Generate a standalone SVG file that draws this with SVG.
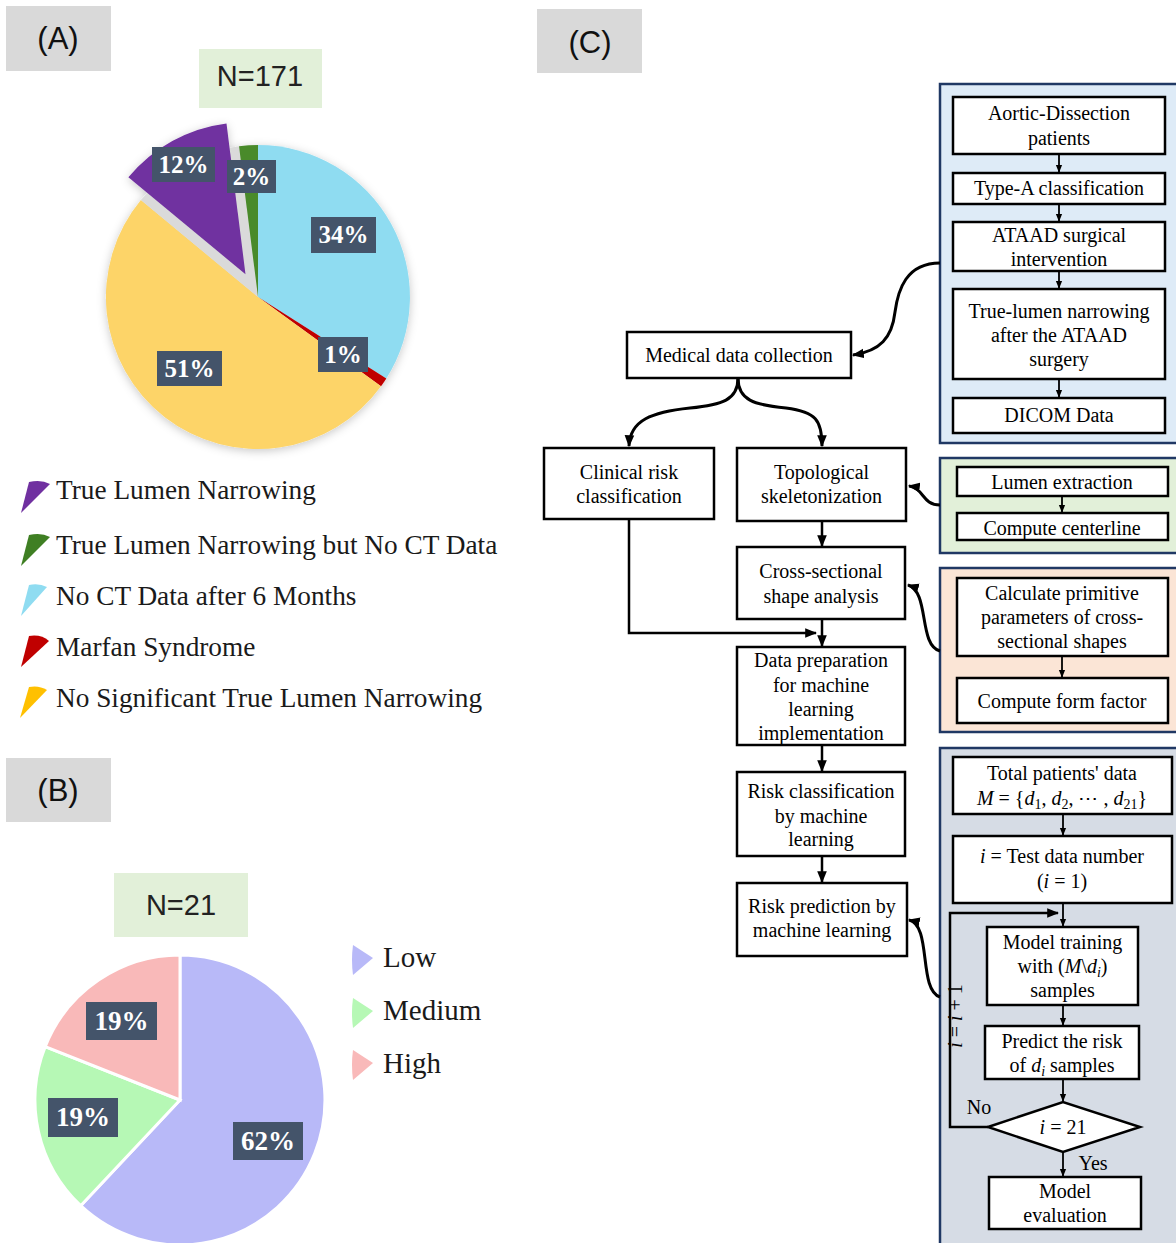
<svg xmlns="http://www.w3.org/2000/svg" width="1176" height="1243" viewBox="0 0 1176 1243">
<defs>
<style>
.lbl{fill:#d9d9d9}
.lt{font-family:"Liberation Sans",Arial,sans-serif;font-size:31px;fill:#111;text-anchor:middle}
.nb{fill:#e2f0d9}
.nt{font-family:"Liberation Sans",Arial,sans-serif;font-size:29px;fill:#222;text-anchor:middle}
.pb{fill:#44546a}
.pt{font-family:"Liberation Serif","Times New Roman",serif;font-weight:bold;font-size:25px;fill:#fff;text-anchor:middle}
.pt2{font-family:"Liberation Serif","Times New Roman",serif;font-weight:bold;font-size:27px;fill:#fff;text-anchor:middle}
.lg{font-family:"Liberation Serif","Times New Roman",serif;font-size:27.3px;fill:#1a1a1a}
.lg2{font-family:"Liberation Serif","Times New Roman",serif;font-size:29px;fill:#1a1a1a}
.bx{fill:#fff;stroke:#000;stroke-width:2.5}
.pn{stroke:#203864;stroke-width:2.5}
.ft{font-family:"Liberation Serif","Times New Roman",serif;font-size:20px;fill:#000;text-anchor:middle}
.it{font-style:italic}
.ar{fill:none;stroke:#000;stroke-width:2.5;marker-end:url(#ah)}
.as{fill:none;stroke:#000;stroke-width:1.8;marker-end:url(#ahs)}
.cv{fill:none;stroke:#000;stroke-width:3;marker-end:url(#ah)}
</style>
<marker id="ah" viewBox="0 0 10 10" refX="9" refY="5" markerWidth="12" markerHeight="12" markerUnits="userSpaceOnUse" orient="auto"><path d="M0,1 L10,5 L0,9 Z" fill="#000"/></marker>
<marker id="ahs" viewBox="0 0 10 10" refX="9" refY="5" markerWidth="8" markerHeight="8" markerUnits="userSpaceOnUse" orient="auto"><path d="M0,1 L10,5 L0,9 Z" fill="#000"/></marker>
<filter id="sh" x="-20%" y="-20%" width="140%" height="140%"><feDropShadow dx="0" dy="2" stdDeviation="5" flood-color="#000" flood-opacity="0.22"/></filter>
</defs>
<rect width="1176" height="1243" fill="#fff"/>

<!-- Panel A -->
<g id="labelA"><rect class="lbl" x="6" y="6" width="105" height="65"/><text class="lt" x="58" y="49">(A)</text></g>
<g id="n171"><rect class="nb" x="199" y="49" width="123" height="59"/><text class="nt" x="260" y="86">N=171</text></g>
<g id="pieA">
<g filter="url(#sh)">
<path d="M258,297 L258,145 A152,152 0 0 1 386.3,378.4 Z" fill="#8fdcf1"/>
<path d="M258,297 L386.3,378.4 A152,152 0 0 1 381.0,386.3 Z" fill="#c00000"/>
<path d="M258,297 L381.0,386.3 A152,152 0 1 1 140.9,200.1 Z" fill="#fdd468"/>
<path d="M258,297 L140.9,200.1 A152,152 0 0 1 239.0,146.2 Z" fill="#dadada"/>
<path d="M258,297 L239.0,146.2 A152,152 0 0 1 258,145 Z" fill="#4a8a2c"/>
<path d="M245.5,274.2 L128.4,177.3 A152,152 0 0 1 226.5,123.4 Z" fill="#7030a0"/>
</g>
<rect class="pb" x="152" y="147" width="63" height="35"/><text class="pt" x="183.5" y="173">12%</text>
<rect class="pb" x="227" y="160" width="49" height="33"/><text class="pt" x="251.5" y="185">2%</text>
<rect class="pb" x="311" y="217" width="65" height="36"/><text class="pt" x="343.5" y="243">34%</text>
<rect class="pb" x="318" y="337" width="50" height="35"/><text class="pt" x="343" y="363">1%</text>
<rect class="pb" x="157" y="351" width="65" height="35"/><text class="pt" x="189.5" y="377">51%</text>
</g>
<g id="legendA">
<path transform="translate(21,482)" d="M0,31 L8,0 Q20,-3 29,2 Z" fill="#7030a0"/>
<text class="lg" x="56" y="499">True Lumen Narrowing</text>
<path transform="translate(21,535)" d="M0,31 L8,0 Q20,-3 29,2 Z" fill="#3f7f23"/>
<text class="lg" x="56" y="554">True Lumen Narrowing but No CT Data</text>
<path transform="translate(21,585)" d="M0,31 L8,0 Q18,-2 26,2 Z" fill="#8fdcf1"/>
<text class="lg" x="56" y="605">No CT Data after 6 Months</text>
<path transform="translate(21,636)" d="M0,31 L8,0 Q20,-2 28,5 Z" fill="#c00000"/>
<text class="lg" x="56" y="656">Marfan Syndrome</text>
<path transform="translate(20,687)" d="M0,31 L9,0 Q19,-2 27,3 Z" fill="#ffc000"/>
<text class="lg" x="56" y="707">No Significant True Lumen Narrowing</text>
</g>

<!-- Panel B -->
<g id="labelB"><rect class="lbl" x="6" y="758" width="105" height="64"/><text class="lt" x="58" y="801">(B)</text></g>
<g id="n21"><rect class="nb" x="114" y="873" width="134" height="64"/><text class="nt" x="181" y="915">N=21</text></g>
<g id="pieB" stroke="#fff" stroke-width="3">
<path d="M180,1100 L180,955 A145,145 0 1 1 80.7,1205.7 Z" fill="#b8b9f8"/>
<path d="M180,1100 L80.7,1205.7 A145,145 0 0 1 45.2,1046.6 Z" fill="#b6f8b5"/>
<path d="M180,1100 L45.2,1046.6 A145,145 0 0 1 180,955 Z" fill="#f9b9b9"/>
</g>
<g id="pieBlabels">
<rect class="pb" x="86" y="1002" width="71" height="38"/><text class="pt2" x="121.5" y="1030">19%</text>
<rect class="pb" x="48" y="1098" width="70" height="39"/><text class="pt2" x="83" y="1126">19%</text>
<rect class="pb" x="233" y="1122" width="70" height="38"/><text class="pt2" x="268" y="1150">62%</text>
</g>
<g id="legendB">
<path transform="translate(353,945)" d="M0,0 L20,13 L0,30 Q-2,15 0,0 Z" fill="#b8b9f8"/>
<text class="lg2" x="383" y="967">Low</text>
<path transform="translate(353,998)" d="M0,0 L20,13 L0,30 Q-2,15 0,0 Z" fill="#b6f8b5"/>
<text class="lg2" x="383" y="1020">Medium</text>
<path transform="translate(353,1050)" d="M0,0 L20,13 L0,30 Q-2,15 0,0 Z" fill="#f9b9b9"/>
<text class="lg2" x="383" y="1073">High</text>
</g>

<!-- Panel C -->
<g id="labelC"><rect class="lbl" x="537" y="9" width="105" height="64"/><text class="lt" x="590" y="53">(C)</text></g>

<g id="panel-blue"><rect class="pn" x="940" y="84" width="250" height="359" fill="#deebf7"/></g>
<g id="panel-green"><rect class="pn" x="940" y="458" width="250" height="95" fill="#e2f0d9"/></g>
<g id="panel-orange"><rect class="pn" x="940" y="568" width="250" height="164" fill="#fbe5d6"/></g>
<g id="panel-gray"><rect class="pn" x="940" y="748" width="250" height="510" fill="#d6dce5"/></g>

<g id="n-aortic"><rect class="bx" x="953" y="97" width="212" height="57"/><text class="ft" x="1059" y="120">Aortic-Dissection</text><text class="ft" x="1059" y="145">patients</text></g>
<g id="n-typea"><rect class="bx" x="953" y="173" width="212" height="31"/><text class="ft" x="1059" y="195">Type-A classification</text></g>
<g id="n-ataad"><rect class="bx" x="953" y="222" width="212" height="49"/><text class="ft" x="1059" y="242">ATAAD surgical</text><text class="ft" x="1059" y="266">intervention</text></g>
<g id="n-narrow"><rect class="bx" x="953" y="289" width="212" height="90"/><text class="ft" x="1059" y="318">True-lumen narrowing</text><text class="ft" x="1059" y="342">after the ATAAD</text><text class="ft" x="1059" y="366">surgery</text></g>
<g id="n-dicom"><rect class="bx" x="953" y="398" width="212" height="35"/><text class="ft" x="1059" y="422">DICOM Data</text></g>

<g id="n-lumen"><rect class="bx" x="957" y="467" width="211" height="29"/><text class="ft" x="1062" y="489">Lumen extraction</text></g>
<g id="n-center"><rect class="bx" x="957" y="513" width="211" height="27"/><text class="ft" x="1062" y="535">Compute centerline</text></g>

<g id="n-calc"><rect class="bx" x="957" y="578" width="211" height="78"/><text class="ft" x="1062" y="600">Calculate primitive</text><text class="ft" x="1062" y="624">parameters of cross-</text><text class="ft" x="1062" y="648">sectional shapes</text></g>
<g id="n-form"><rect class="bx" x="957" y="678" width="211" height="45"/><text class="ft" x="1062" y="708">Compute form factor</text></g>

<g id="n-medical"><rect class="bx" x="627" y="332" width="224" height="46"/><text class="ft" x="739" y="362">Medical data collection</text></g>
<g id="n-clinical"><rect class="bx" x="544" y="448" width="170" height="71"/><text class="ft" x="629" y="479">Clinical risk</text><text class="ft" x="629" y="503">classification</text></g>
<g id="n-topo"><rect class="bx" x="737" y="448" width="169" height="73"/><text class="ft" x="821.5" y="479">Topological</text><text class="ft" x="821.5" y="503">skeletonization</text></g>
<g id="n-cross"><rect class="bx" x="737" y="547" width="168" height="72"/><text class="ft" x="821" y="578">Cross-sectional</text><text class="ft" x="821" y="603">shape analysis</text></g>
<g id="n-prep"><rect class="bx" x="737" y="647" width="168" height="98"/><text class="ft" x="821" y="667">Data preparation</text><text class="ft" x="821" y="692">for machine</text><text class="ft" x="821" y="716">learning</text><text class="ft" x="821" y="740">implementation</text></g>
<g id="n-riskclass"><rect class="bx" x="737" y="772" width="168" height="84"/><text class="ft" x="821" y="798">Risk classification</text><text class="ft" x="821" y="823">by machine</text><text class="ft" x="821" y="846">learning</text></g>
<g id="n-riskpred"><rect class="bx" x="737" y="883" width="170" height="73"/><text class="ft" x="822" y="913">Risk prediction by</text><text class="ft" x="822" y="937">machine learning</text></g>

<g id="n-total"><rect class="bx" x="953" y="757" width="219" height="57"/><text class="ft" x="1062" y="780">Total patients' data</text>
<text class="ft" x="1062" y="805"><tspan class="it">M</tspan> = {<tspan class="it">d</tspan><tspan font-size="14" dy="4">1</tspan><tspan dy="-4">, </tspan><tspan class="it">d</tspan><tspan font-size="14" dy="4">2</tspan><tspan dy="-4">, ⋯ , </tspan><tspan class="it">d</tspan><tspan font-size="14" dy="4">21</tspan><tspan dy="-4">}</tspan></text></g>
<g id="n-testnum"><rect class="bx" x="953" y="836" width="219" height="67"/><text class="ft" x="1062" y="863"><tspan class="it">i</tspan> = Test data number</text><text class="ft" x="1062" y="888">(<tspan class="it">i</tspan> = 1)</text></g>
<g id="n-train"><rect class="bx" x="987" y="927" width="151" height="78"/><text class="ft" x="1062.5" y="949">Model training</text><text class="ft" x="1062.5" y="973">with (<tspan class="it">M</tspan>\<tspan class="it">d</tspan><tspan class="it" font-size="14" dy="4">i</tspan><tspan dy="-4">)</tspan></text><text class="ft" x="1062.5" y="997">samples</text></g>
<g id="n-predict"><rect class="bx" x="985" y="1026" width="154" height="53"/><text class="ft" x="1062" y="1048">Predict the risk</text><text class="ft" x="1062" y="1072">of <tspan class="it">d</tspan><tspan class="it" font-size="14" dy="4">i</tspan><tspan dy="-4"> samples</tspan></text></g>
<g id="n-decision"><polygon points="988,1127 1063,1102 1140,1127 1063,1152" fill="#fff" stroke="#000" stroke-width="2.5"/><text class="ft" x="1063" y="1134"><tspan class="it">i</tspan> = 21</text></g>
<g id="n-eval"><rect class="bx" x="989" y="1177" width="152" height="52"/><text class="ft" x="1065" y="1198">Model</text><text class="ft" x="1065" y="1222">evaluation</text></g>

<g id="connectors">
<path class="as" d="M1059,154 V172"/>
<path class="as" d="M1059,204 V221"/>
<path class="as" d="M1059,271 V288"/>
<path class="as" d="M1059,379 V397"/>
<path class="as" d="M1062,496 V512"/>
<path class="as" d="M1062,656 V677"/>
<path class="as" d="M1063,814 V835"/>
<path class="as" d="M1063,903 V926"/>
<path class="as" d="M1063,1005 V1025"/>
<path class="as" d="M1063,1079 V1101"/>
<path class="as" d="M1063,1152 V1176"/>
<path class="ar" d="M988,1127 H950 V913 H1058"/>
<text class="ft" x="962" y="1016" transform="rotate(-90 962 1016)" font-size="18"><tspan class="it">i</tspan> = <tspan class="it">i</tspan> + 1</text>
<text class="ft" x="979" y="1114" font-size="19">No</text>
<text class="ft" x="1093" y="1170" font-size="19">Yes</text>

<path class="cv" d="M940,263 C906,263 898,290 895,312 C892,338 880,351 853,355"/>
<path class="cv" d="M738,378 C738,400 722,405 690,408 C652,412 630,420 629,446"/>
<path class="cv" d="M738,378 C738,400 754,405 786,408 C816,412 822,420 822,446"/>
<path class="cv" d="M940,505 C922,505 924,488 909,486"/>
<path class="cv" d="M940,651 C918,645 930,592 908,585"/>
<path class="cv" d="M940,997 C918,990 932,925 909,920"/>
<path class="ar" d="M629,519 V633 H816"/>
<path class="ar" d="M822,521 V546"/>
<path class="ar" d="M822,619 V646"/>
<path class="ar" d="M822,745 V771"/>
<path class="ar" d="M822,856 V882"/>
</g>
</svg>
